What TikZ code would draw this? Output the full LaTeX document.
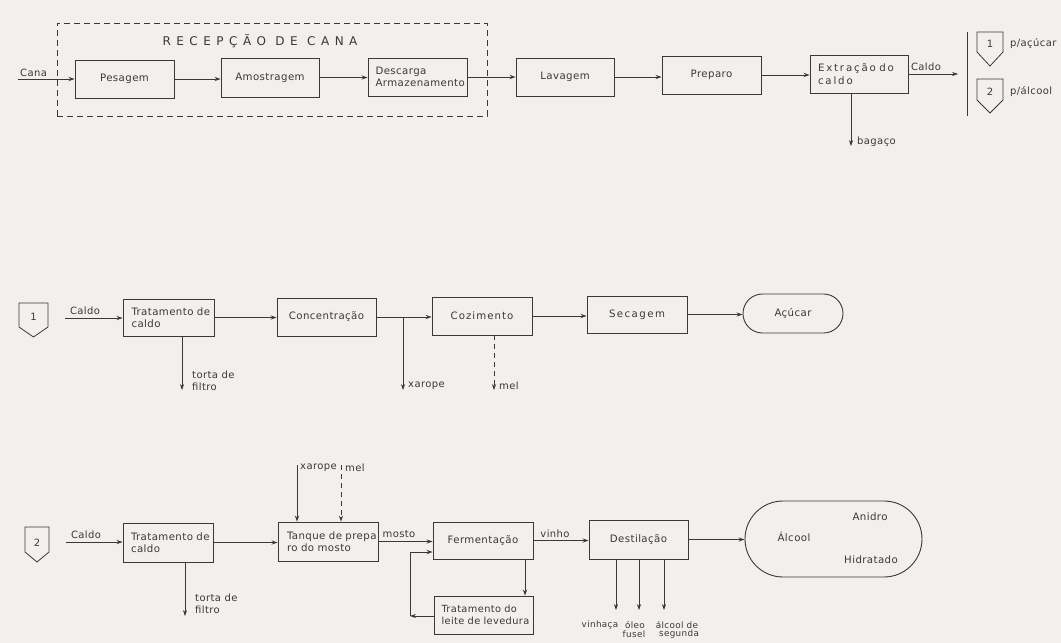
\documentclass[tikz,border=0pt]{standalone}
\usepackage{fontspec}
\setmainfont{DejaVu Sans}[LetterSpace=4]
\usetikzlibrary{arrows.meta,shapes.misc}
\definecolor{ink}{HTML}{3C3838}
\definecolor{paper}{HTML}{F3EFED}
\begin{document}
\begin{tikzpicture}[x=1pt,y=-1pt,
  box/.style={draw=ink, line width=0.9pt, minimum height=38, inner sep=0pt,
    font=\fontsize{10.2}{12.5}\selectfont, text=ink},
  lbox/.style={box, align=left, text width=#1},
  stad/.style={draw=ink, line width=0.9pt, rounded rectangle, inner sep=0pt,
    font=\fontsize{10.2}{12.5}\selectfont, text=ink},
  arr/.style={draw=ink, line width=0.8pt, -{Stealth[length=6pt,width=4.2pt]}},
  dashline/.style={draw=ink, line width=0.8pt, dash pattern=on 5pt off 4pt},
  lab/.style={text=ink, font=\fontsize{10}{11.5}\selectfont, inner sep=1pt},
  slab/.style={text=ink, font=\fontsize{8.8}{9.5}\selectfont, inner sep=0.5pt},
  conn/.style={draw=ink, line width=0.8pt}]
\useasboundingbox (0,0) rectangle (1061,643);
\fill[paper] (0,0) rectangle (1061,643);

% ---------------- top row ----------------
\node[draw=ink, line width=0.7pt, dash pattern=on 6pt off 4pt, minimum width=430, minimum height=93, inner sep=0pt] (recep) at (272,69.5) {};
\node[text=ink, font=\fontsize{12}{14}\selectfont\addfontfeatures{LetterSpace=46}] (recept) at (260,41) {RECEPÇÃO DE CANA};

\node[box, minimum width=99] (pes) at (124.5,79) {Pesagem};
\node[box, minimum width=98, minimum height=39] (amo) at (270,77.5) {Amostragem};
\node[lbox=84, minimum width=99] (des) at (417.5,77) {Descarga\\Armazenamento};
\node[box, minimum width=98] (lav) at (565,77) {Lavagem};
\node[box, minimum width=99] (pre) at (711.5,75) {Preparo};
\node[lbox=82, minimum width=98] (ext) at (859,74) {\addfontfeatures{LetterSpace=18}Extração~do\\caldo};

\coordinate (canain) at (18,79);
\draw[arr] (canain) -- (pes.west);
\node[lab, anchor=south west] (canal) at (19,78) {Cana};
\draw[arr] (pes.east) -- (pes.east -| amo.west);
\draw[arr] (amo.east) -- (amo.east -| des.west);
\draw[arr] (des.east) -- (des.east -| lav.west);
\draw[arr] (lav.east) -- (lav.east -| pre.west);
\draw[arr] (pre.east) -- (pre.east -| ext.west);

\coordinate (cald) at (958,74);
\draw[arr] (ext.east) -- (cald);
\node[lab, anchor=south] (caldl) at (926,72) {Caldo};
\coordinate (bartop) at (967,32);
\coordinate (barbot) at (967,116);
\draw[conn] (bartop) -- (barbot);

\coordinate (bag) at (851,146);
\draw[arr] (ext.south -| bag) -- (bag);
\node[lab, anchor=west] (bagl) at (856,142) {bagaço};

\draw[conn] (977,32) -- (1003,32) -- (1003,52) -- (990,66) -- (977,52) -- cycle;
\node[lab] (n1) at (990,44) {1};
\node[lab, anchor=west] (pa) at (1009,44) {p/açúcar};
\draw[conn] (977,79) -- (1003,79) -- (1003,100) -- (990,113) -- (977,100) -- cycle;
\node[lab] (n2) at (990,92) {2};
\node[lab, anchor=west] (pb) at (1009,92) {p/álcool};

% ---------------- middle row ----------------
\draw[conn] (19,303) -- (48,303) -- (48,327) -- (33.5,337) -- (19,327) -- cycle;
\node[lab] (m1) at (33.5,317) {1};
\coordinate (cin1) at (65,318);
\node[lbox=74, minimum width=91, minimum height=37] (trat1) at (168.5,317.5) {Tratamento~de\\caldo};
\draw[arr] (cin1) -- (cin1 -| trat1.west);
\node[lab, anchor=south] (cl1) at (85,316) {Caldo};
\coordinate (tor1) at (182,390);
\draw[arr] (trat1.south -| tor1) -- (tor1);
\node[lab, anchor=west, align=left] (tl1) at (191,381) {torta de\\filtro};

\node[box, minimum width=99] (conc) at (326.5,317) {Concentração};
\draw[arr] (trat1.east) -- (trat1.east -| conc.west);
\node[box, minimum width=100, font=\fontsize{10.2}{12.5}\selectfont\addfontfeatures{LetterSpace=10}] (coz) at (482,316) {Cozimento};
\draw[arr] (conc.east) -- (conc.east -| coz.west);
\coordinate (xj) at (403,317);
\coordinate (xo) at (403,390);
\draw[arr] (xj) -- (xo);
\node[lab, anchor=west] (xl) at (407,386) {xarope};
\coordinate (mo) at (494,390);
\draw[dashline, -{Stealth[length=6pt,width=4.2pt]}] (coz.south -| mo) -- (mo);
\node[lab, anchor=west] (ml) at (498,386) {mel};

\node[box, minimum width=100, minimum height=37, font=\fontsize{10.2}{12.5}\selectfont\addfontfeatures{LetterSpace=14}] (sec) at (637,314.5) {Secagem};
\draw[arr] (coz.east) -- (coz.east -| sec.west);
\node[stad, minimum width=100, minimum height=39] (acu) at (793,313.5) {Açúcar};
\draw[arr] (sec.east) -- (sec.east -| acu.west);

% ---------------- bottom row ----------------
\draw[conn] (25,527) -- (49,527) -- (49,552) -- (37,562) -- (25,552) -- cycle;
\node[lab] (m2) at (37,543) {2};
\coordinate (cin2) at (66,542);
\node[lbox=74, minimum width=90, minimum height=39] (trat2) at (168,542.5) {Tratamento~de\\caldo};
\draw[arr] (cin2) -- (cin2 -| trat2.west);
\node[lab, anchor=south] (cl2) at (86,540) {Caldo};
\coordinate (tor2) at (185,616);
\draw[arr] (trat2.south -| tor2) -- (tor2);
\node[lab, anchor=west, align=left] (tl2) at (194,604) {torta de\\filtro};

\node[lbox=82, minimum width=100, minimum height=39] (tanq) at (328,541.5) {Tanque~de~prepa\\ro do mosto};
\draw[arr] (trat2.east) -- (trat2.east -| tanq.west);
\coordinate (xi) at (297,465);
\coordinate (mi) at (341,465);
\draw[arr] (xi) -- (xi |- tanq.north);
\draw[dashline, -{Stealth[length=6pt,width=4.2pt]}] (mi) -- (mi |- tanq.north);
\node[lab, anchor=west] (xl2) at (299,468) {xarope};
\node[lab, anchor=west] (ml2) at (344,468) {mel};

\node[box, minimum width=100, minimum height=37] (ferm) at (483,540.5) {Fermentação};
\draw[arr] (tanq.east) -- (tanq.east -| ferm.west);
\node[lab, anchor=south] (most) at (399,539) {mosto};

\node[box, minimum width=99, minimum height=39] (dest) at (638.5,539.5) {Destilação};
\draw[arr] (ferm.east) -- (ferm.east -| dest.west);
\node[lab, anchor=south] (vin) at (555,539) {vinho};

\node[lbox=84, minimum width=99, font=\fontsize{9.8}{12.3}\selectfont] (lei) at (483.5,615) {\mbox{Tratamento do}\\\mbox{leite de levedura}};
\coordinate (fl) at (525,559);
\draw[arr] (fl) -- (fl |- lei.north);
\coordinate (rc) at (410,616);
\coordinate (rt) at (410,552);
\draw[arr] (lei.west |- rc) -- (rc);
\draw[arr] (rc) -- (rt) -- (rt -| ferm.west);

\coordinate (o1) at (616,610);
\coordinate (o2) at (639,610);
\coordinate (o3) at (664,610);
\draw[arr] (dest.south -| o1) -- (o1);
\draw[arr] (dest.south -| o2) -- (o2);
\draw[arr] (dest.south -| o3) -- (o3);
\node[slab] (v1) at (600,625) {vinhaça};
\node[slab] (v2) at (635,625) {óleo};
\node[slab] (v3) at (634,634) {fusel};
\node[slab] (v4) at (677,625) {álcool de};
\node[slab] (v5) at (679,634) {segunda};

\node[stad, minimum width=177, minimum height=76] (alc) at (833.5,539) {};
\draw[arr] (dest.east) -- (dest.east -| alc.west);
\node[lab, font=\fontsize{10.2}{12}\selectfont] (alct) at (794,537) {Álcool};
\node[lab, font=\fontsize{10.2}{12}\selectfont] (ani) at (870,517) {Anidro};
\node[lab, font=\fontsize{10.2}{12}\selectfont] (hid) at (871,560) {Hidratado};
\end{tikzpicture}
\end{document}
